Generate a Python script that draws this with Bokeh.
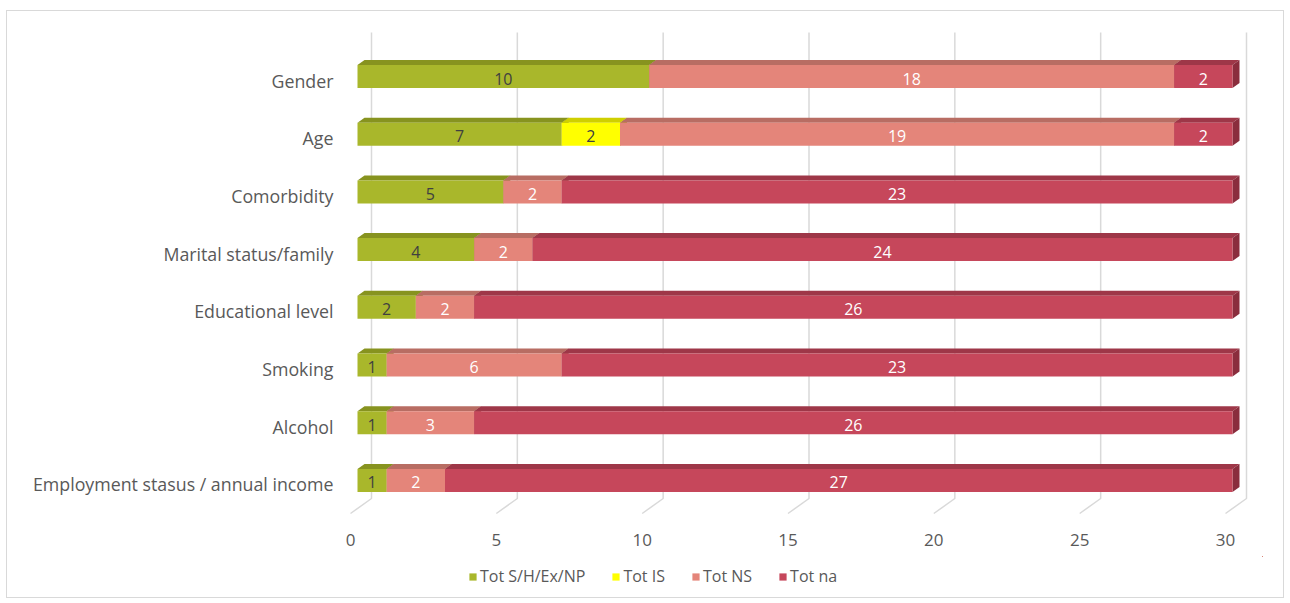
from bokeh.plotting import figure
from bokeh.layouts import column
from bokeh.models import ColumnDataSource, Range1d, LinearAxis, FixedTicker, Legend, LegendItem
from bokeh.embed import file_html
from bokeh.resources import INLINE
from bokeh.core.properties import value

# ---------------- data ----------------
categories = ["Gender", "Age", "Comorbidity", "Marital status/family",
              "Educational level", "Smoking", "Alcohol",
              "Employment stasus / annual income"]
series_names = ["Tot S/H/Ex/NP", "Tot IS", "Tot NS", "Tot na"]
tot_sh = [10, 7, 5, 4, 2, 1, 1, 1]
tot_is = [0, 2, 0, 0, 0, 0, 0, 0]
tot_ns = [18, 19, 2, 2, 2, 6, 3, 2]
tot_na = [2, 2, 23, 24, 26, 23, 26, 27]
x_ticks = [0, 5, 10, 15, 20, 25, 30]

series_values = [tot_sh, tot_is, tot_ns, tot_na]

# ---------------- style ----------------
front_colors = ["#A9B72B", "#FFFF00", "#E4857A", "#C6475B"]
top_colors = ["#87931F", "#CFCF00", "#B86D63", "#9E3748"]
side_colors = ["#76801A", "#B5B500", "#A05E56", "#8A2D3D"]
label_colors = ["#404040", "#404040", "#FFFFFF", "#FFFFFF"]
FONT = "Open Sans"
GREY = "#595959"

# geometry (pixel based)
PX_X = 875 / 30.0          # px per x unit
PX_ROW = 57.7              # px per category row
DX = 7 / PX_X              # 3D depth along x
DY = 5 / PX_ROW            # 3D depth along y (rows)
HALF = 11.5 / PX_ROW       # half height of bar front face

# page positions (canvas at page offset 7,11)
x_start = (345 - 357) / PX_X
x_end = (1262 - 357) / PX_X
y_top = (25 - 76) / PX_ROW
y_bot = (520 - 76) / PX_ROW
grid_top = (32 - 76) / PX_ROW
floor_back = (498 - 76) / PX_ROW
floor_front = (513 - 76) / PX_ROW
LABEL_SHIFT = 4 / PX_ROW

W = 1276
H_MAIN = 545
H_LEG = 586 - H_MAIN

p = figure(width=W, height=H_MAIN, title=None,
           x_range=Range1d(x_start, x_end), y_range=Range1d(y_bot, y_top),
           x_axis_type=None, y_axis_type=None,
           toolbar_location=None, output_backend="svg",
           min_border_left=338, min_border_right=21,
           min_border_top=14, min_border_bottom=H_MAIN - 509,
           outline_line_color=None)

# gridlines on back wall + floor diagonals
gxs = [[t + 2 * DX, t + 2 * DX, t - DX] for t in x_ticks]
gys = [[grid_top, floor_back, floor_front] for _ in x_ticks]
p.multi_line(xs=gxs, ys=gys, line_color="#d9d9d9", line_width=1.5)

sources = []
cum = [0] * len(categories)
for k, vals in enumerate(series_values):
    rows, lefts, rights, mids, txt = [], [], [], [], []
    top_xs, top_ys, side_xs, side_ys = [], [], [], []
    for i, v in enumerate(vals):
        a = cum[i]
        b = a + v
        cum[i] = b
        if v <= 0:
            continue
        r = i
        rows.append(r)
        lefts.append(a)
        rights.append(b)
        mids.append((a + b) / 2)
        txt.append(str(v))
        yt = r - HALF
        yb = r + HALF
        top_xs.append([a, b, b + DX, a + DX])
        top_ys.append([yt, yt, yt - DY, yt - DY])
        side_xs.append([b, b + DX, b + DX, b])
        side_ys.append([yt, yt - DY, yb - DY, yb])
    src = ColumnDataSource(dict(y=rows, left=lefts, right=rights, mid=mids, txt=txt,
                                txs=top_xs, tys=top_ys, sxs=side_xs, sys=side_ys))
    sources.append(src)
    p.patches(xs="txs", ys="tys", source=src, fill_color=top_colors[k], line_color=None)
    p.patches(xs="sxs", ys="sys", source=src, fill_color=side_colors[k], line_color=None)
    p.hbar(y="y", left="left", right="right", height=2 * HALF, source=src,
           fill_color=front_colors[k], line_color=None)
    p.text(x="mid", y="y", text="txt", source=src, text_align="center",
           text_baseline="middle", text_font_size="16px", text_font=value(FONT),
           text_color=label_colors[k], y_offset=2)

# axes
p.extra_x_ranges = {"floor": Range1d(x_start + DX, x_end + DX)}
p.extra_y_ranges = {"labels": Range1d(y_bot - LABEL_SHIFT, y_top - LABEL_SHIFT)}

xaxis = LinearAxis(x_range_name="floor", ticker=FixedTicker(ticks=x_ticks),
                   axis_line_color=None, major_tick_line_color=None,
                   minor_tick_line_color=None, major_label_standoff=7,
                   major_label_text_font_size="17px", major_label_text_color=GREY,
                   major_label_text_font=FONT)
p.add_layout(xaxis, "below")

yaxis = LinearAxis(y_range_name="labels", ticker=FixedTicker(ticks=list(range(len(categories)))),
                   major_label_overrides={i: c for i, c in enumerate(categories)},
                   axis_line_color=None, major_tick_line_color=None,
                   minor_tick_line_color=None, major_label_standoff=6,
                   major_label_text_font_size="17.8px", major_label_text_color=GREY,
                   major_label_text_font=FONT)
p.add_layout(yaxis, "left")

# legend strip (separate small figure below the chart; its series glyphs have
# zero height and lie out of view, so only the legend swatches show)
lf = figure(width=W, height=H_LEG, title=None,
            x_range=Range1d(-1000, -999), y_range=Range1d(-1000, -999),
            x_axis_type=None, y_axis_type=None, toolbar_location=None,
            output_backend="svg", min_border=0, outline_line_color=None)
items = []
for k, name in enumerate(series_names):
    r = lf.hbar(y="y", left="left", right="right", height=0, source=sources[k],
                fill_color=front_colors[k], line_color=None)
    items.append(LegendItem(label=name, renderers=[r]))
legend = Legend(items=items, orientation="horizontal", location=(123, 10),
                glyph_width=9, glyph_height=9, label_standoff=3, spacing=26,
                padding=0, margin=0, background_fill_alpha=0, border_line_color=None,
                label_text_font_size="16px", label_text_color=GREY,
                label_text_font=FONT)
lf.add_layout(legend)

layout = column(p, lf, spacing=0,
                styles={"margin-left": "6px", "margin-top": "10px",
                        "border": "1px solid #d9d9d9"})

open("out.html", "w").write(file_html(layout, INLINE))
